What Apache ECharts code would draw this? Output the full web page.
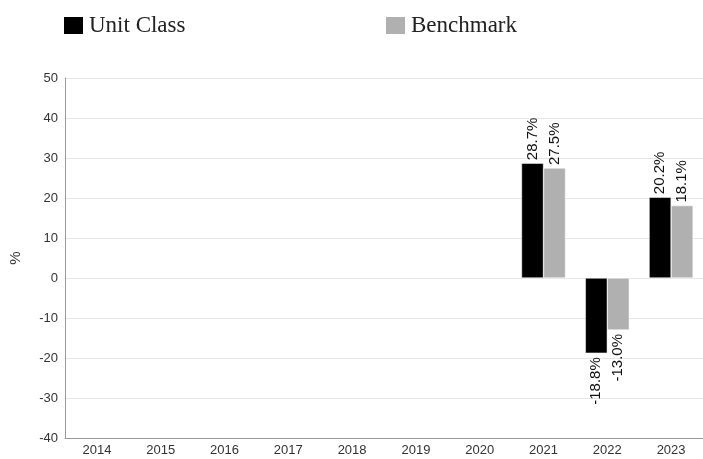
<!DOCTYPE html>
<html><head><meta charset="utf-8">
<script src="https://cdn.jsdelivr.net/npm/echarts@6/dist/echarts.min.js"></script>
<style>html,body{margin:0;padding:0;background:#fff}#c{width:703px;height:459px}</style>
</head><body><div id="c"></div>
<script>
const categories = ['2014','2015','2016','2017','2018','2019','2020','2021','2022','2023'];
const unitClass = [null,null,null,null,null,null,null,28.7,-18.8,20.2];
const benchmark = [null,null,null,null,null,null,null,27.5,-13.0,18.1];
const seriesNames = ['Unit Class','Benchmark'];

function mk(vals){
  return vals.map(v => v == null ? null : (v < 0 ? {value:v,label:{position:'bottom',align:'right',distance:4}} : v));
}
const legendText = {fontFamily:'Liberation Serif',fontSize:23,color:'#222'};
const lbl = {show:true,position:'top',rotate:90,align:'left',verticalAlign:'middle',distance:3,
  formatter:p=>p.value.toFixed(1)+'%',fontFamily:'Arial, Liberation Sans',fontSize:15,color:'#111'};
const chart = echarts.init(document.getElementById('c'));
chart.setOption({
  animation:false,
  legend:[
    {left:62, top:14, padding:0, itemWidth:21, itemHeight:19, itemGap:0, icon:'rect', data:[seriesNames[0]], textStyle:legendText},
    {left:384, top:14, padding:0, itemWidth:21, itemHeight:19, itemGap:0, icon:'rect', data:[seriesNames[1]], textStyle:legendText}
  ],
  grid:{left:64,width:643,top:78,bottom:21},
  xAxis:{type:'category',data:categories,
    axisLine:{onZero:false,lineStyle:{color:'#999'}},axisTick:{show:false},
    axisLabel:{color:'#333',fontFamily:'Arial, Liberation Sans',fontSize:13,margin:6}},
  yAxis:{type:'value',min:-40,max:50,interval:10,name:'%',nameLocation:'middle',nameGap:42,
    nameTextStyle:{fontFamily:'Arial, Liberation Sans',fontSize:15,color:'#333'},
    axisLine:{show:true,lineStyle:{color:'#999'}},axisTick:{show:false},
    splitLine:{lineStyle:{color:'#e6e6e6'}},
    axisLabel:{color:'#333',fontFamily:'Arial, Liberation Sans',fontSize:13,margin:7}},
  series:[
    {name:seriesNames[0],type:'bar',data:mk(unitClass),barWidth:22,barGap:'0%',
     itemStyle:{color:'#000',borderColor:'#fff',borderWidth:0.5},label:lbl},
    {name:seriesNames[1],type:'bar',data:mk(benchmark),barWidth:22,
     itemStyle:{color:'#b0b0b0',borderColor:'#fff',borderWidth:0.5},label:lbl}
  ]
});
</script></body></html>
